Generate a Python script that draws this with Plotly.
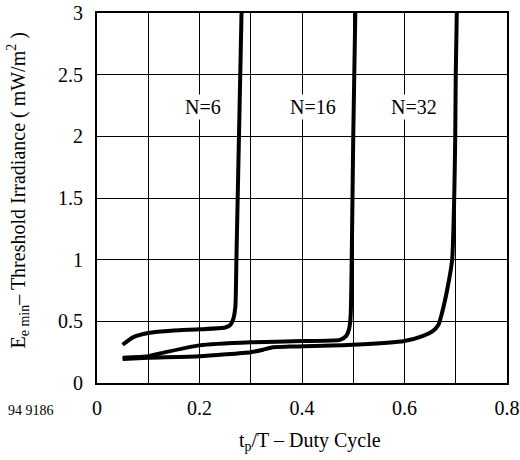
import plotly.graph_objects as go

# Duty cycle (x) and threshold irradiance (y) for each curve
n6_x = [0.05, 0.07, 0.10, 0.15, 0.20, 0.25, 0.260, 0.266, 0.270, 0.272, 0.275, 0.278, 0.282]
n6_y = [0.31, 0.37, 0.405, 0.425, 0.435, 0.45, 0.47, 0.52, 0.62, 1.0, 1.6, 2.2, 3.0]

n16_x = [0.05, 0.10, 0.134, 0.20, 0.30, 0.40, 0.474, 0.486, 0.492, 0.495, 0.497, 0.500, 0.504]
n16_y = [0.205, 0.217, 0.25, 0.305, 0.33, 0.34, 0.35, 0.38, 0.44, 0.55, 1.0, 2.0, 3.0]

n32_x = [0.05, 0.10, 0.20, 0.30, 0.324, 0.343, 0.376, 0.50, 0.60, 0.635, 0.655, 0.666, 0.672, 0.683, 0.693, 0.697, 0.699, 0.700, 0.702]
n32_y = [0.195, 0.205, 0.217, 0.25, 0.27, 0.29, 0.295, 0.31, 0.34, 0.38, 0.42, 0.47, 0.55, 0.75, 1.0, 1.5, 2.0, 2.5, 3.0]

curve_labels = ["N=6", "N=16", "N=32"]
label_x = [0.207, 0.421, 0.618]
label_y = [2.24, 2.24, 2.24]

font = "Liberation Serif, Times New Roman, serif"

fig = go.Figure()
for xs, ys, name in [(n6_x, n6_y, "N=6"), (n16_x, n16_y, "N=16"), (n32_x, n32_y, "N=32")]:
    fig.add_trace(go.Scatter(x=xs, y=ys, mode="lines", name=name,
                             line=dict(color="black", width=4, shape="spline", smoothing=0.5),
                             showlegend=False, hoverinfo="skip"))

for t, lx, ly in zip(curve_labels, label_x, label_y):
    fig.add_annotation(x=lx, y=ly, text=t, showarrow=False,
                       font=dict(family=font, size=20, color="black"),
                       bgcolor="white")

fig.add_annotation(xref="paper", yref="paper", x=-0.222, y=-0.075, text="94 9186",
                   showarrow=False, xanchor="left", yanchor="middle",
                   font=dict(family=font, size=14, color="black"))

# axis titles
fig.add_annotation(xref="paper", yref="paper", x=0.52, y=-0.157, yanchor="middle",
                   text="t<sub>p</sub>/T – Duty Cycle", showarrow=False,
                   font=dict(family=font, size=20, color="black"))
fig.add_annotation(xref="paper", yref="paper", x=-0.193, y=0.52, xanchor="center",
                   textangle=-90,
                   text="E<sub>e min</sub>– Threshold Irradiance ( mW/m<sup>2</sup> )", showarrow=False,
                   font=dict(family=font, size=20, color="black"))

axis_common = dict(showline=True, linecolor="black", linewidth=2, mirror=True,
                   showgrid=True, gridcolor="black", gridwidth=1, zeroline=False,
                   automargin=False,
                   ticks="", tickfont=dict(family=font, size=20, color="black"))

fig.update_xaxes(range=[0, 0.8], dtick=0.2, tick0=0,
                 minor=dict(dtick=0.1, showgrid=True, gridcolor="black", gridwidth=1),
                 tickformat="~g", ticklabelstandoff=6, **axis_common)
fig.update_yaxes(range=[0, 3], dtick=0.5, tick0=0,
                 tickformat="~g", ticklabelstandoff=8, **axis_common)

fig.update_layout(width=520, height=460, margin=dict(l=97, r=13, t=13, b=77),
                  plot_bgcolor="white", paper_bgcolor="white")

fig.write_html("out.html", config={"displayModeBar": False},
               post_script="document.body.style.margin='0';document.body.style.overflow='hidden';")
